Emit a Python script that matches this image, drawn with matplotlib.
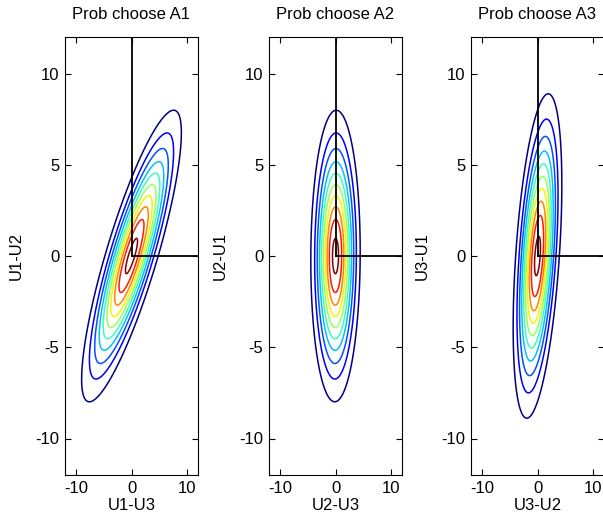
import numpy as np
import matplotlib
matplotlib.use("Agg")
import matplotlib.pyplot as plt

plt.rcParams['font.family'] = ['Liberation Sans', 'DejaVu Sans']
plt.rcParams['font.size'] = 12
plt.rcParams['axes.unicode_minus'] = False

# panel texts
titles = ['Prob choose A1', 'Prob choose A2', 'Prob choose A3']
xlabels = ['U1-U3', 'U2-U3', 'U3-U2']
ylabels = ['U1-U2', 'U2-U1', 'U3-U1']

# bivariate normal of the utility differences
sigma_x = [4.10, 2.03, 2.00]
sigma_y = [3.64, 3.64, 4.05]
rho = [0.845, 0.03, 0.44]
mean_x = [0.0, 0.0, 0.0]
mean_y = [0.0, 0.0, 0.0]

# contour levels as fractions of the peak density
level_frac = [0.09, 0.18, 0.27, 0.365, 0.46, 0.56, 0.66, 0.76, 0.86, 0.965]

# region "choose Ai" drawn as black lines
region_x = [[[0, 0, 12], [0, 12]], [[0, 0], [0, 12]], [[0, 0], [0, 12]]]
region_y = [[[0, 12, 12], [0, 0]], [[0, 12], [0, 0]], [[0, 12], [0, 0]]]

lim = 12
g = np.linspace(-lim, lim, 301)
X, Y = np.meshgrid(g, g)

fig = plt.figure(figsize=(6.03, 5.2), dpi=100)
lefts = [65 / 603, 269 / 603, 471 / 603]
for i in range(3):
    ax = fig.add_axes([lefts[i], 45 / 520, 133 / 603, 438 / 520])
    sx, sy, r = sigma_x[i], sigma_y[i], rho[i]
    dx = (X - mean_x[i]) / sx
    dy = (Y - mean_y[i]) / sy
    q = (dx**2 - 2 * r * dx * dy + dy**2) / (1 - r**2)
    peak = 1 / (2 * np.pi * sx * sy * np.sqrt(1 - r**2))
    Z = np.exp(-q / 2) * peak
    ax.contour(X, Y, Z, levels=[f * peak for f in level_frac], cmap='jet', linewidths=1.1)
    for xs, ys in zip(region_x[i], region_y[i]):
        ax.plot(xs, ys, color='black', lw=1.3)
    ax.set_xlim(-lim, lim)
    ax.set_ylim(-lim, lim)
    ax.set_xticks([-10, 0, 10])
    ax.set_yticks([-10, -5, 0, 5, 10])
    ax.tick_params(direction='in', length=4, top=True, right=True, pad=4)
    ax.set_title(titles[i], fontsize=12, pad=13)
    ax.set_xlabel(xlabels[i])
    ax.set_ylabel(ylabels[i])
    ax.xaxis.set_label_coords(0.5, -0.052)
    ax.yaxis.set_label_coords(-0.31, 0.5)
    for s in ax.spines.values():
        s.set_linewidth(0.8)

fig.savefig('out.png', dpi=100)
